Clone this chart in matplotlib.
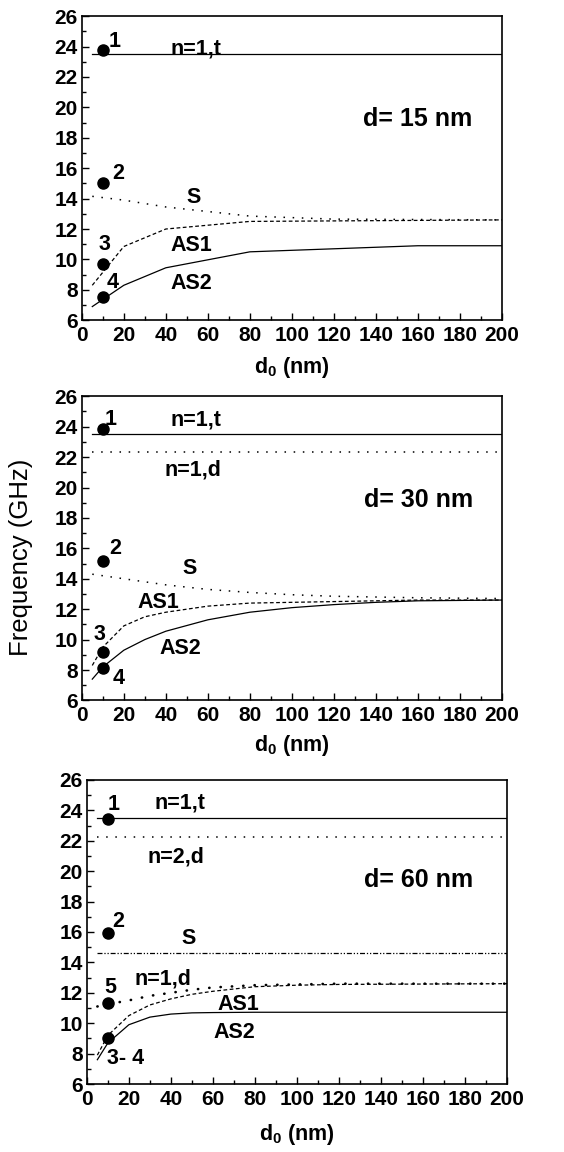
import numpy as np
import matplotlib.pyplot as plt
from matplotlib.ticker import MultipleLocator

plt.rcParams['font.family'] = ['Liberation Sans', 'DejaVu Sans']
plt.rcParams['font.weight'] = 'bold'
plt.rcParams['mathtext.fontset'] = 'custom'
plt.rcParams['mathtext.bf'] = 'Liberation Sans:bold'
plt.rcParams['mathtext.rm'] = 'Liberation Sans:bold'

# ---- data ----
# panel d = 15 nm
x15_t = [5, 200]
f15_t = [23.5, 23.5]
x15_s = [5, 20, 40, 80, 120, 200]
f15_s = [14.15, 13.9, 13.45, 12.85, 12.65, 12.6]
x15_as1 = [5, 20, 40, 80, 200]
f15_as1 = [8.3, 10.85, 12.0, 12.5, 12.6]
x15_as2 = [5, 20, 40, 80, 160, 200]
f15_as2 = [6.9, 8.3, 9.45, 10.5, 10.9, 10.9]
pts15 = [23.8, 15.05, 9.7, 7.5]

# panel d = 30 nm
x30 = [5, 10, 20, 30, 40, 60, 80, 100, 120, 140, 160, 200]
f30_t = [23.5] * 12
f30_d = [22.35] * 12
f30_s = [14.3, 14.2, 14.0, 13.8, 13.6, 13.3, 13.1, 12.95, 12.85, 12.8, 12.75, 12.7]
f30_as1 = [8.3, 9.5, 10.9, 11.5, 11.8, 12.2, 12.4, 12.45, 12.5, 12.55, 12.6, 12.6]
f30_as2 = [7.4, 8.2, 9.3, 10.0, 10.55, 11.3, 11.8, 12.1, 12.3, 12.45, 12.55, 12.6]
pts30 = [23.85, 15.2, 9.2, 8.1]

# panel d = 60 nm
x60 = [5, 10, 20, 30, 40, 50, 60, 80, 100, 120, 200]
f60_t = [23.5] * 11
f60_d2 = [22.25] * 11
f60_s = [14.6] * 11
f60_d1 = [11.1, 11.25, 11.5, 11.8, 12.0, 12.2, 12.35, 12.5, 12.55, 12.6, 12.6]
f60_as1 = [7.9, 9.2, 10.5, 11.2, 11.6, 11.9, 12.1, 12.4, 12.5, 12.55, 12.6]
f60_as2 = [7.6, 8.7, 9.9, 10.4, 10.6, 10.68, 10.7, 10.72, 10.72, 10.72, 10.72]
pts60 = [23.4, 15.9, 11.3, 9.0]

pt_x = 10

LW = 0.9
DOT = (0, (1, 5))
TXT = 15.5


def style_axis(ax, pad=5):
    ax.set_xlim(0, 200)
    ax.set_ylim(6, 26)
    ax.xaxis.set_major_locator(MultipleLocator(20))
    ax.xaxis.set_minor_locator(MultipleLocator(10))
    ax.yaxis.set_major_locator(MultipleLocator(2))
    ax.yaxis.set_minor_locator(MultipleLocator(1))
    ax.tick_params(which='both', direction='in', top=False, right=False,
                   labelsize=15, width=1.0)
    ax.tick_params(axis='x', pad=4)
    ax.tick_params(axis='y', pad=3)
    ax.tick_params(which='major', length=5)
    ax.tick_params(which='minor', length=3)
    for s in ax.spines.values():
        s.set_linewidth(1.2)
    for lab in ax.get_xticklabels() + ax.get_yticklabels():
        lab.set_fontweight('bold')
    ax.set_xlabel('d$_\\mathbf{0}$ (nm)', fontsize=15.5, fontweight='bold', labelpad=pad)


def put(ax, x, y, s, size=TXT):
    ax.text(x, y, s, fontsize=size, fontweight='bold', ha='left', va='baseline')


fig = plt.figure(figsize=(5.64, 11.52), dpi=100)
ax1 = fig.add_axes([0.145, 0.722, 0.745, 0.264])
ax2 = fig.add_axes([0.145, 0.392, 0.745, 0.264])
ax3 = fig.add_axes([0.154, 0.059, 0.745, 0.264])

# panel 1
ax1.plot(x15_t, f15_t, 'k-', lw=LW)
ax1.plot(x15_s, f15_s, 'k', ls=DOT, lw=1.1)
ax1.plot(x15_as1, f15_as1, 'k--', lw=LW, dashes=(3, 2))
ax1.plot(x15_as2, f15_as2, 'k-', lw=LW)
ax1.plot([pt_x] * 4, pts15, 'ko', ms=8)
put(ax1, 12.7, 24.0, '1')
put(ax1, 42, 23.45, 'n=1,t')
put(ax1, 14.3, 15.3, '2')
put(ax1, 50, 13.7, 'S')
put(ax1, 7.9, 10.6, '3')
put(ax1, 42.3, 10.55, 'AS1')
put(ax1, 11.9, 8.15, '4')
put(ax1, 42.3, 8.08, 'AS2')
put(ax1, 134, 18.75, 'd= 15 nm', size=18)
style_axis(ax1, pad=7)

# panel 2
ax2.plot(x30, f30_t, 'k-', lw=LW)
ax2.plot(x30, f30_d, 'k', ls=DOT, lw=1.1)
ax2.plot(x30, f30_s, 'k', ls=DOT, lw=1.1)
ax2.plot(x30, f30_as1, 'k--', lw=LW, dashes=(3, 2))
ax2.plot(x30, f30_as2, 'k-', lw=LW)
ax2.plot([pt_x] * 4, pts30, 'ko', ms=8)
put(ax2, 11, 24.1, '1')
put(ax2, 42.4, 24.05, 'n=1,t')
put(ax2, 39.5, 20.8, 'n=1,d')
put(ax2, 13, 15.6, '2')
put(ax2, 48, 14.3, 'S')
put(ax2, 26.6, 12.05, 'AS1')
put(ax2, 5.5, 10.0, '3')
put(ax2, 37, 9.05, 'AS2')
put(ax2, 14.7, 7.05, '4')
put(ax2, 134.4, 18.7, 'd= 30 nm', size=18)
ax2.set_ylabel('Frequency (GHz)', fontsize=18.5, fontweight='normal')
ax2.yaxis.set_label_coords(-0.115, 0.47)
style_axis(ax2, pad=6)

# panel 3
ax3.plot(x60, f60_t, 'k-', lw=LW)
ax3.plot(x60, f60_d2, 'k', ls=DOT, lw=1.1)
ax3.plot(x60, f60_s, 'k', ls=(0, (4, 1.5, 1, 1.5, 1, 1.5)), lw=LW)
ax3.plot(x60, f60_d1, 'k', ls=(0, (0.1, 4.2)), lw=1.9, dash_capstyle='round')
ax3.plot(x60, f60_as1, 'k--', lw=LW, dashes=(3, 2))
ax3.plot(x60, f60_as2, 'k-', lw=LW)
ax3.plot([pt_x] * 4, pts60, 'ko', ms=8)
put(ax3, 9.8, 24.05, '1')
put(ax3, 32.2, 24.1, 'n=1,t')
put(ax3, 29, 20.6, 'n=2,d')
put(ax3, 11.9, 16.35, '2')
put(ax3, 44.8, 15.2, 'S')
put(ax3, 22.5, 12.55, 'n=1,d')
put(ax3, 8.4, 12.0, '5')
put(ax3, 62.2, 10.85, 'AS1')
put(ax3, 60.3, 9.05, 'AS2')
put(ax3, 9.8, 7.35, '3- 4')
put(ax3, 132, 18.95, 'd= 60 nm', size=18)
style_axis(ax3, pad=10)

fig.savefig('out.png', dpi=100)
